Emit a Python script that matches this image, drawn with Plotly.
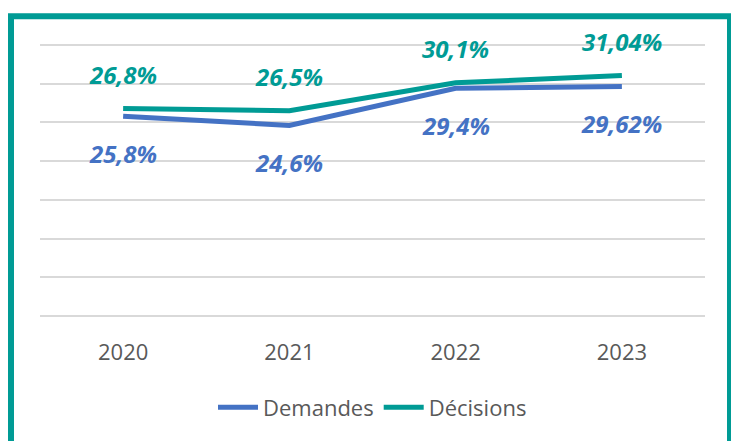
import plotly.graph_objects as go

years = ["2020", "2021", "2022", "2023"]
demandes = [25.8, 24.6, 29.4, 29.62]
decisions = [26.8, 26.5, 30.1, 31.04]

BLUE = "#4472C4"
TEAL = "#009B95"
FONT = "Open Sans"

def fmt(v):
    return ("%g" % v).replace(".", ",") + "%"

fig = go.Figure()
fig.add_trace(go.Scatter(x=years, y=demandes, mode="lines", name="Demandes",
                         line=dict(color=BLUE, width=5)))
fig.add_trace(go.Scatter(x=years, y=decisions, mode="lines", name="Décisions",
                         line=dict(color=TEAL, width=5)))

for i, v in enumerate(decisions):
    fig.add_annotation(x=i, y=v, text=fmt(v), showarrow=False, yshift=34,
                       font=dict(family=FONT, size=24, color=TEAL, weight="bold", style="italic"))
for i, v in enumerate(demandes):
    fig.add_annotation(x=i, y=v, text=fmt(v), showarrow=False, yshift=-37,
                       font=dict(family=FONT, size=24, color=BLUE, weight="bold", style="italic"))

L, R, T, B = 40, 26, 41, 119
W, H = 731, 441
pw, ph = W - L - R, H - T - B

def px_x(x):
    return (x - L) / pw

def px_y(y):
    return (H - B - y) / ph

fig.add_shape(type="rect", xref="paper", yref="paper",
              x0=px_x(11), x1=px_x(730), y0=px_y(460), y1=px_y(16),
              line=dict(color=TEAL, width=6), fillcolor="rgba(0,0,0,0)", layer="above")

fig.update_layout(
    width=W, height=H,
    margin=dict(l=L, r=R, t=T, b=B),
    paper_bgcolor="white", plot_bgcolor="white",
    showlegend=True,
    legend=dict(orientation="h", x=0.5, xanchor="center", y=px_y(410), yanchor="middle",
                font=dict(family=FONT, size=22, color="#595959"), itemwidth=40),
    xaxis=dict(type="category", range=[-0.5, 3.5], showgrid=False, zeroline=False,
               showline=False, ticks="", ticklabelstandoff=17,
               tickfont=dict(family=FONT, size=22, color="#595959")),
    yaxis=dict(range=[-0.5, 35.5], tickvals=[0, 5, 10, 15, 20, 25, 30, 35], showgrid=True,
               gridcolor="#D9D9D9", gridwidth=1.5,
               zeroline=False, showticklabels=False, fixedrange=True),
)

fig.write_html("out.html", config={"displayModeBar": False},
               post_script="document.body.style.margin='0';")
